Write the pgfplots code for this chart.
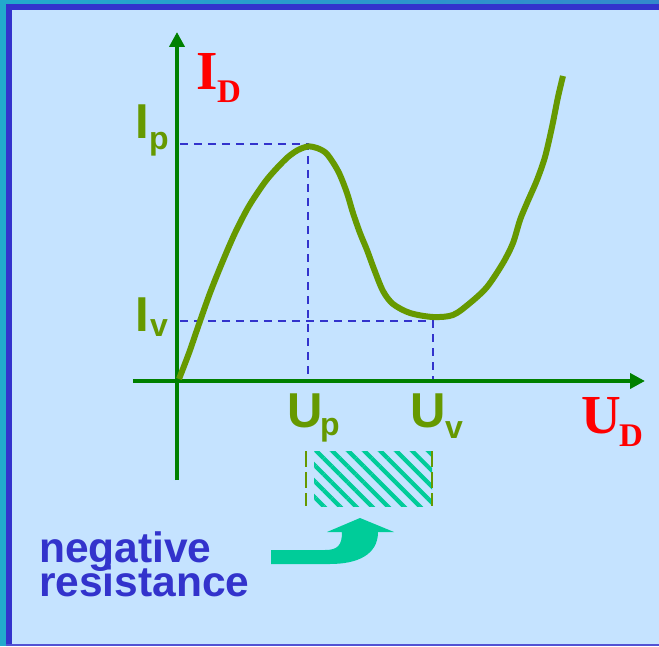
\documentclass[border=0pt]{standalone}
\usepackage{pgfplots}
\pgfplotsset{compat=1.18}
\usepackage{fontspec}
\setmainfont{Liberation Sans}
\newfontfamily\timesf{Liberation Serif}
\usetikzlibrary{arrows.meta,patterns.meta}
\definecolor{bg}{HTML}{C5E3FF}
\definecolor{frameblue}{HTML}{3333CC}
\definecolor{stripcyan}{HTML}{22AACC}
\definecolor{stripblue}{HTML}{3388CC}
\definecolor{axgreen}{HTML}{008000}
\definecolor{curveolive}{HTML}{669900}
\definecolor{dashblue}{HTML}{3333CC}
\definecolor{tealc}{HTML}{00CC99}
\newcommand{\bigsans}{\bfseries\fontsize{49}{49}\selectfont}
\newcommand{\subsans}{\bfseries\fontsize{32}{32}\selectfont}
\begin{document}
\begin{tikzpicture}
% background and frame, in pixel coordinates (origin top-left)
\begin{scope}[x=1pt,y=-1pt,shift={(-177pt,381pt)}]
  \fill[bg] (0,0) rectangle (659,646);
  \shade[left color=stripcyan,right color=stripblue] (0,0) rectangle (659,4);
  \fill[stripcyan] (0,0) rectangle (6,646);
  \fill[frameblue] (6,4) rectangle (659,10);
  \fill[frameblue] (6,4) rectangle (12,646);
  \fill[frameblue!85!white] (6,643.5) rectangle (659,646);
\end{scope}
\begin{axis}[
  x=1pt, y=1pt, anchor=origin, at={(0,0)},
  xmin=-44, xmax=468, ymin=-99, ymax=349,
  axis lines=middle,
  axis line style={draw=axgreen, line width=4pt, -{Triangle[length=15pt,width=15pt]}},
  xtick=\empty, ytick=\empty,
  clip=false,
]
% hatched region (negative resistance range)
\addplot[draw=none, pattern={Lines[angle=-45,distance=11.3pt,line width=4.2pt]}, pattern color=tealc]
  coordinates {(137,-70) (255,-70) (255,-125) (137,-125)} -- cycle;
\addplot[curveolive, line width=2pt, dash pattern=on 16pt off 5pt] coordinates {(129,-70) (129,-125)};
\addplot[curveolive, line width=2pt, dash pattern=on 16pt off 5pt] coordinates {(255,-70) (255,-125)};
% dashed guide lines
\addplot[dashblue, line width=2.3pt, dash pattern=on 8pt off 6pt] coordinates {(3,237) (131,237) (131,2)};
\addplot[dashblue, line width=2.3pt, dash pattern=on 8pt off 6pt] coordinates {(3,60) (256,60) (256,2)};
% tunnel diode characteristic
\addplot[curveolive, line width=6pt, smooth] coordinates {
(2,2) (12,28) (22,57) (33,88) (45,118) (58,148) (72,175) (88,199) (100,213)
(111,224) (121,231) (131,234.5) (140,233) (149,228) (157,217) (163,206)
(170,188) (176,168) (183,148) (190,131) (197,112) (206,90) (216,77) (233,68)
(256,64) (276,66) (293,78) (310,94) (326,118) (336,138) (343,161) (350,178)
(360,201) (368,224) (375,254) (381,284) (386,305)};
\end{axis}
\begin{scope}[x=1pt,y=-1pt,shift={(-177pt,381pt)}]
  % curved arrow
  \fill[tealc] (271,550) -- (325,550) .. controls (338,550) and (342,545) .. (342,532)
    -- (327,532) -- (360,518) -- (394,532) -- (378,532)
    .. controls (378,555) and (357,564) .. (330,564) -- (271,564) -- cycle;
  % labels
  \node[anchor=base west,inner sep=0,text=red,font=\timesf\bfseries\fontsize{55}{55}\selectfont] at (196,90) {I};
  \node[anchor=base west,inner sep=0,text=red,font=\timesf\bfseries\fontsize{33}{33}\selectfont] at (217,103) {D};
  \node[anchor=base west,inner sep=0,text=red,font=\timesf\bfseries\fontsize{55}{55}\selectfont] at (581,433) {U};
  \node[anchor=base west,inner sep=0,text=red,font=\timesf\bfseries\fontsize{33}{33}\selectfont] at (619,446) {D};
  \node[anchor=base west,inner sep=0,text=curveolive,font=\bigsans] at (135,138) {I};
  \node[anchor=base west,inner sep=0,text=curveolive,font=\subsans] at (149,150) {p};
  \node[anchor=base west,inner sep=0,text=curveolive,font=\bigsans] at (135,331) {I};
  \node[anchor=base west,inner sep=0,text=curveolive,font=\subsans] at (150,336) {v};
  \node[anchor=base west,inner sep=0,text=curveolive,font=\bigsans] at (287,427) {U};
  \node[anchor=base west,inner sep=0,text=curveolive,font=\subsans] at (320,435) {p};
  \node[anchor=base west,inner sep=0,text=curveolive,font=\bigsans] at (410,427) {U};
  \node[anchor=base west,inner sep=0,text=curveolive,font=\subsans] at (445,438) {v};
  \node[anchor=base west,inner sep=0,text=frameblue,font=\bfseries\fontsize{42.5}{42.5}\selectfont] at (39,562) {negative};
  \node[anchor=base west,inner sep=0,text=frameblue,font=\bfseries\fontsize{42.5}{42.5}\selectfont] at (39,596) {resistance};
  \pgfresetboundingbox
  \path[use as bounding box] (0,0) rectangle (659,646);
\end{scope}
\end{tikzpicture}
\end{document}
